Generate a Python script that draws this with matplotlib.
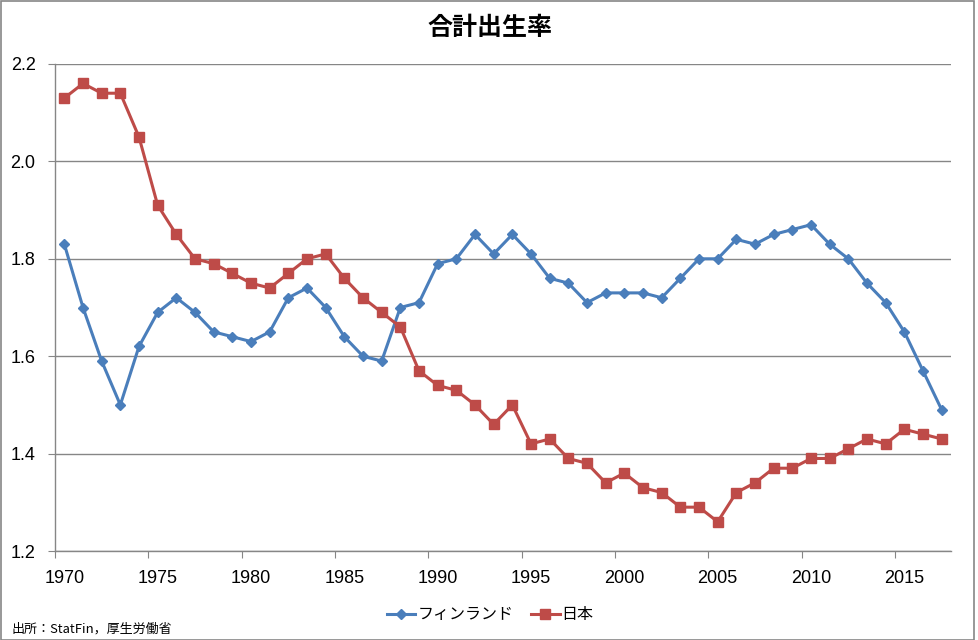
import matplotlib
matplotlib.use("Agg")
import matplotlib.pyplot as plt
from matplotlib.patches import Rectangle

plt.rcParams['font.family'] = ['Noto Sans CJK JP', 'DejaVu Sans']

years = list(range(1970, 2018))
finland = [1.83, 1.70, 1.59, 1.50, 1.62, 1.69, 1.72, 1.69, 1.65, 1.64,
           1.63, 1.65, 1.72, 1.74, 1.70, 1.64, 1.60, 1.59, 1.70, 1.71,
           1.79, 1.80, 1.85, 1.81, 1.85, 1.81, 1.76, 1.75, 1.71, 1.73,
           1.73, 1.73, 1.72, 1.76, 1.80, 1.80, 1.84, 1.83, 1.85, 1.86,
           1.87, 1.83, 1.80, 1.75, 1.71, 1.65, 1.57, 1.49]
japan = [2.13, 2.16, 2.14, 2.14, 2.05, 1.91, 1.85, 1.80, 1.79, 1.77,
         1.75, 1.74, 1.77, 1.80, 1.81, 1.76, 1.72, 1.69, 1.66, 1.57,
         1.54, 1.53, 1.50, 1.46, 1.50, 1.42, 1.43, 1.39, 1.38, 1.34,
         1.36, 1.33, 1.32, 1.29, 1.29, 1.26, 1.32, 1.34, 1.37, 1.37,
         1.39, 1.39, 1.41, 1.43, 1.42, 1.45, 1.44, 1.43]
series_names = ['フィンランド', '日本']
title = '合計出生率'
source = '出所：StatFin，厚生労働省'
yticks = [1.2, 1.4, 1.6, 1.8, 2.0, 2.2]

W, H = 979, 640
fig = plt.figure(figsize=(W / 100, H / 100), dpi=100)
ax = fig.add_axes([55 / W, 1 - 551 / H, (951 - 55) / W, (551 - 64) / H])

x = list(range(len(years)))
blue = '#4A7EBB'
red = '#BE4B48'
ax.plot(x, finland, color=blue, lw=2.2, marker='D', ms=5.5, mfc=blue, mec=blue,
        label=series_names[0], zorder=3)
ax.plot(x, japan, color=red, lw=2.2, marker='s', ms=7, mfc=red, mec=red,
        label=series_names[1], zorder=3)

ax.set_xlim(-0.5, len(years) - 0.5)
ax.set_ylim(1.2, 2.2)
ax.set_yticks(yticks)
ax.set_yticklabels([f'{v:.1f}' for v in yticks], fontsize=13,
                   family=['Liberation Sans', 'DejaVu Sans'])
ax.yaxis.grid(True, color='#868686', lw=1)
ax.set_axisbelow(True)

# category axis: tick marks at boundaries, labels at category centers
ax.set_xticks([i - 0.5 for i in range(0, len(years), 5)])
ax.set_xticklabels([])
ax.set_xticks(list(range(0, len(years), 5)), minor=True)
ax.set_xticklabels([str(years[i]) for i in range(0, len(years), 5)], minor=True,
                   fontsize=13, family=['Liberation Sans', 'DejaVu Sans'])
ax.tick_params(axis='x', which='major', length=5, color='#868686', direction='out')
ax.tick_params(axis='x', which='minor', length=0, pad=14)
ax.tick_params(axis='y', length=5, color='#868686', direction='out', pad=9)

for s in ['top', 'right']:
    ax.spines[s].set_visible(False)
for s in ['left', 'bottom']:
    ax.spines[s].set_color('#868686')
    ax.spines[s].set_linewidth(1)

fig.text(490 / W, 1 - 28 / H, title, ha='center', va='center', fontsize=18,
         fontweight='bold')
leg = fig.legend(loc='center', bbox_to_anchor=(490 / W, 1 - 615 / H), ncol=2,
                 frameon=False, fontsize=11.5, handlelength=1.8, columnspacing=1.1,
                 handletextpad=0.12)
fig.text(12 / W, 1 - 629 / H, source, ha='left', va='center', fontsize=9.4)

fig.patches.append(Rectangle((0.5 / W, 0.5 / H), (W - 5) / W, (H - 1.5) / H,
                             transform=fig.transFigure, fill=False,
                             edgecolor='#868686', lw=1.2))

fig.savefig('out.png', dpi=100)
